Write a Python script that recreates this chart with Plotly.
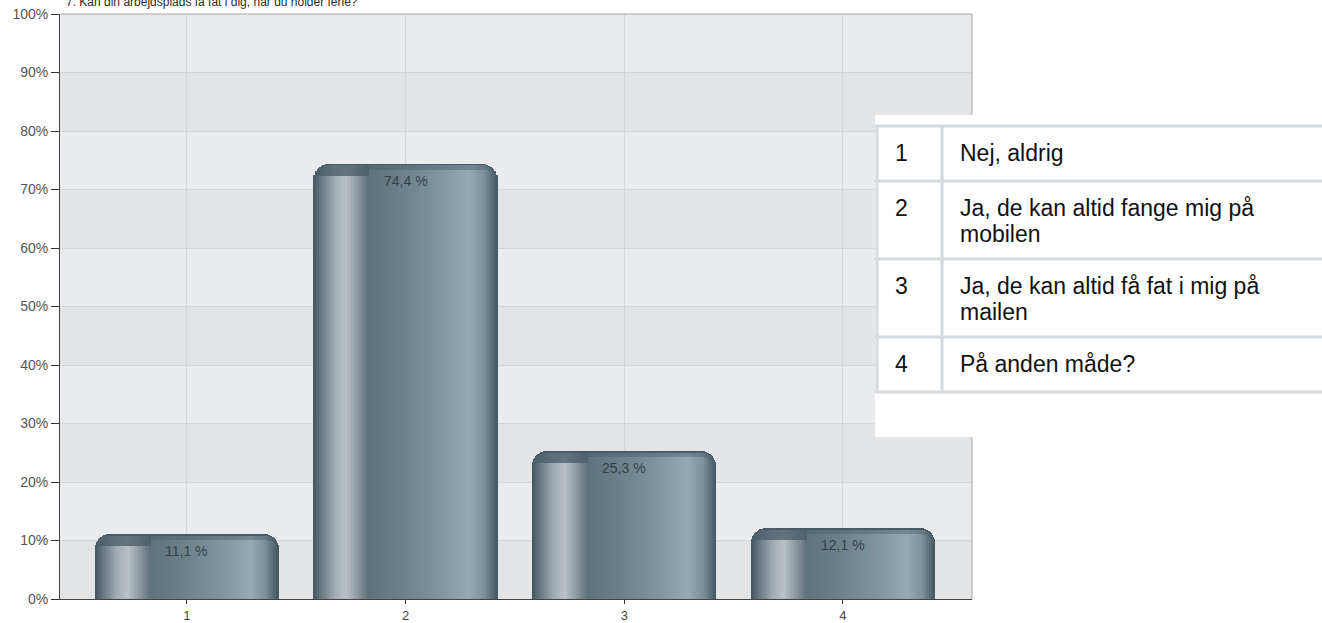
import math
import plotly.graph_objects as go

# ---------------- data ----------------
categories = ["1", "2", "3", "4"]
values = [11.1, 74.4, 25.3, 12.1]
value_labels = ["11,1 %", "74,4 %", "25,3 %", "12,1 %"]
legend_keys = ["1", "2", "3", "4"]
legend_texts = [
    "Nej, aldrig",
    "Ja, de kan altid fange mig på\nmobilen",
    "Ja, de kan altid få fat i mig på\nmailen",
    "På anden måde?",
]
y_ticks = [0, 10, 20, 30, 40, 50, 60, 70, 80, 90, 100]
title_text = "7. Kan din arbejdsplads få fat i dig, når du holder ferie?"

# ---------------- geometry / style ----------------
W, H = 1322, 623
L, R, T, B = 60, 350, 14, 24
PW, PH = W - L - R, H - T - B
FONT = "Liberation Sans, Arial, sans-serif"
X_RANGE = [0.42, 4.59]
DY = 100.0 / PH                               # data units per pixel (y)
PX_PER_CAT = PW / (X_RANGE[1] - X_RANGE[0])   # pixels per category unit


def px_x(p):
    return (p - L) / PW


def px_y(p):
    return (H - B - p) / PH


BAR_W = 0.84
BAR_PX = BAR_W * PX_PER_CAT
N = 92
RAD = 15
stops = [
    (0.00, (0x42, 0x55, 0x5f)),
    (0.05, (0x6c, 0x7d, 0x86)),
    (0.12, (0xa2, 0xad, 0xb3)),
    (0.18, (0xb9, 0xc1, 0xc6)),
    (0.24, (0x8e, 0x9a, 0xa1)),
    (0.30, (0x5e, 0x72, 0x7c)),
    (0.50, (0x6e, 0x82, 0x8c)),
    (0.70, (0x81, 0x96, 0xa1)),
    (0.85, (0x95, 0xaa, 0xb5)),
    (0.93, (0x7c, 0x90, 0x9b)),
    (1.00, (0x44, 0x58, 0x63)),
]
CAP = (0x4a, 0x5e, 0x69)


def grad_rgb(f):
    for (a, ca), (b, cb) in zip(stops[:-1], stops[1:]):
        if a <= f <= b:
            t = (f - a) / (b - a)
            return [ca[j] + (cb[j] - ca[j]) * t for j in range(3)]
    return list(stops[-1][1])


def rgb(c):
    return "rgb(%d,%d,%d)" % tuple(int(round(v)) for v in c)


def corner_drop(d, r):
    if d >= r:
        return 0.0
    return r - math.sqrt(max(r * r - (r - d) ** 2, 0.0))


fig = go.Figure()

# outer rounded dark bar
fig.add_trace(go.Bar(
    x=[i + 1 for i in range(len(categories))], y=values, width=BAR_W,
    marker=dict(color="#485c67", line=dict(width=0), cornerradius=RAD),
    hoverinfo="skip", showlegend=False,
))

sw = BAR_W / N
cap_x, cap_y, cap_c = [], [], []
body_x, body_y, body_c = [], [], []
for i, v in enumerate(values):
    pos = i + 1
    for k in range(N):
        fc = (k + 0.5) / N
        xc = pos - BAR_W / 2 + (k + 0.5) * sw
        d_left = fc * BAR_PX
        d_right = (1 - fc) * BAR_PX
        base = grad_rgb(fc)
        if fc < 0.30:
            cap_x.append(xc)
            cap_y.append(v - DY * (1.5 + corner_drop(d_left, RAD)))
            mix = [CAP[j] * 0.78 + base[j] * 0.22 for j in range(3)]
            cap_c.append(rgb(mix))
            body_x.append(xc)
            body_y.append(v - DY * (12 + corner_drop(d_left, 7)))
            body_c.append(rgb(base))
        else:
            cap_x.append(xc)
            cap_y.append(v - DY * (1.5 + corner_drop(d_right, RAD)))
            mix = [CAP[j] * 0.45 + base[j] * 0.55 for j in range(3)]
            cap_c.append(rgb(mix))
            body_x.append(xc)
            body_y.append(v - DY * (6 + corner_drop(d_right, RAD)))
            body_c.append(rgb(base))

fig.add_trace(go.Bar(
    x=cap_x, y=cap_y, width=sw * 1.25,
    marker=dict(color=cap_c, line=dict(width=0)),
    hoverinfo="skip", showlegend=False,
))
fig.add_trace(go.Bar(
    x=body_x, y=body_y, width=sw * 1.25,
    marker=dict(color=body_c, line=dict(width=0)),
    hoverinfo="skip", showlegend=False,
))

annotations = []
for i, (v, lab) in enumerate(zip(values, value_labels)):
    annotations.append(dict(
        x=i + 1, y=v, xref="x", yref="y", text=lab, showarrow=False,
        yshift=-17, font=dict(family=FONT, size=14, color="rgba(40,52,60,0.85)"),
    ))

# title (partly cut at the top of the page, as in the original)
annotations.append(dict(
    x=px_x(64), y=px_y(2), xref="paper", yref="paper", xanchor="left", yanchor="middle",
    text=title_text, showarrow=False,
    font=dict(family=FONT, size=12, color="#2a2a2a"),
))

shapes = []
for k in range(0, 10, 2):
    shapes.append(dict(type="rect", xref="paper", yref="y", x0=0, x1=1,
                       y0=y_ticks[k], y1=y_ticks[k + 1], fillcolor="#e3e4e6",
                       line=dict(width=0), layer="below"))
shapes.append(dict(type="line", xref="paper", yref="paper", x0=0, x1=1, y0=1, y1=1,
                   line=dict(color="#a6a6a6", width=1), layer="above"))
shapes.append(dict(type="line", xref="paper", yref="paper", x0=1, x1=1, y0=0, y1=1,
                   line=dict(color="#a6a6a6", width=1), layer="above"))

# legend table box
shapes.append(dict(type="rect", xref="paper", yref="paper",
                   x0=px_x(875), x1=px_x(1330), y0=px_y(437), y1=px_y(115),
                   fillcolor="white", line=dict(width=0), layer="above"))

LINE_C = "#d3dbe0"
TFS = 23
row_top = 126
pad_top = 27
line_gap = 26
row_lines = [row_top]
for key, txt in zip(legend_keys, legend_texts):
    parts = txt.split("\n")
    annotations.append(dict(
        x=px_x(893), y=px_y(row_top + pad_top), xref="paper", yref="paper",
        xanchor="left", yanchor="middle", text=key, showarrow=False,
        font=dict(family=FONT, size=TFS, color="#111111"),
    ))
    for j, p in enumerate(parts):
        annotations.append(dict(
            x=px_x(958), y=px_y(row_top + pad_top + j * line_gap), xref="paper", yref="paper",
            xanchor="left", yanchor="middle", text=p, showarrow=False,
            font=dict(family=FONT, size=TFS, color="#111111"),
        ))
    row_top += 32 + 23 * len(parts)
    row_lines.append(row_top)

for yy in row_lines:
    shapes.append(dict(type="line", xref="paper", yref="paper",
                       x0=px_x(875), x1=px_x(1330), y0=px_y(yy), y1=px_y(yy),
                       line=dict(color=LINE_C, width=3), layer="above"))
for xx in (877, 942):
    shapes.append(dict(type="line", xref="paper", yref="paper",
                       x0=px_x(xx), x1=px_x(xx), y0=px_y(row_lines[0]), y1=px_y(row_lines[-1]),
                       line=dict(color=LINE_C, width=3), layer="above"))

fig.update_layout(
    width=W, height=H,
    margin=dict(l=L, r=R, t=T, b=B, pad=0, autoexpand=False),
    paper_bgcolor="white", plot_bgcolor="#e9ebee",
    barmode="overlay", bargap=0, hovermode=False,
    showlegend=False,
    annotations=annotations, shapes=shapes,
    font=dict(family=FONT),
)
fig.update_xaxes(
    range=X_RANGE, tickvals=[i + 1 for i in range(len(categories))], ticktext=categories,
    showgrid=True, gridcolor="#d4d6d9", gridwidth=1, zeroline=False,
    showline=True, linecolor="#444444", linewidth=1,
    ticks="outside", ticklen=4, tickcolor="#333333", automargin=False,
    tickfont=dict(family=FONT, size=13, color="#444444"), fixedrange=True,
)
fig.update_yaxes(
    range=[0, 100], tickvals=y_ticks, ticktext=["%d%%" % t for t in y_ticks],
    showgrid=True, gridcolor="#d4d6d9", gridwidth=1, zeroline=False,
    showline=True, linecolor="#444444", linewidth=1,
    ticks="outside", ticklen=8, tickcolor="#333333", automargin=False,
    tickfont=dict(family=FONT, size=14, color="#555555"), fixedrange=True,
)

fig.write_html(
    "out.html",
    config={"displayModeBar": False},
    post_script="document.body.style.margin='0px';document.body.style.overflow='hidden';",
)
